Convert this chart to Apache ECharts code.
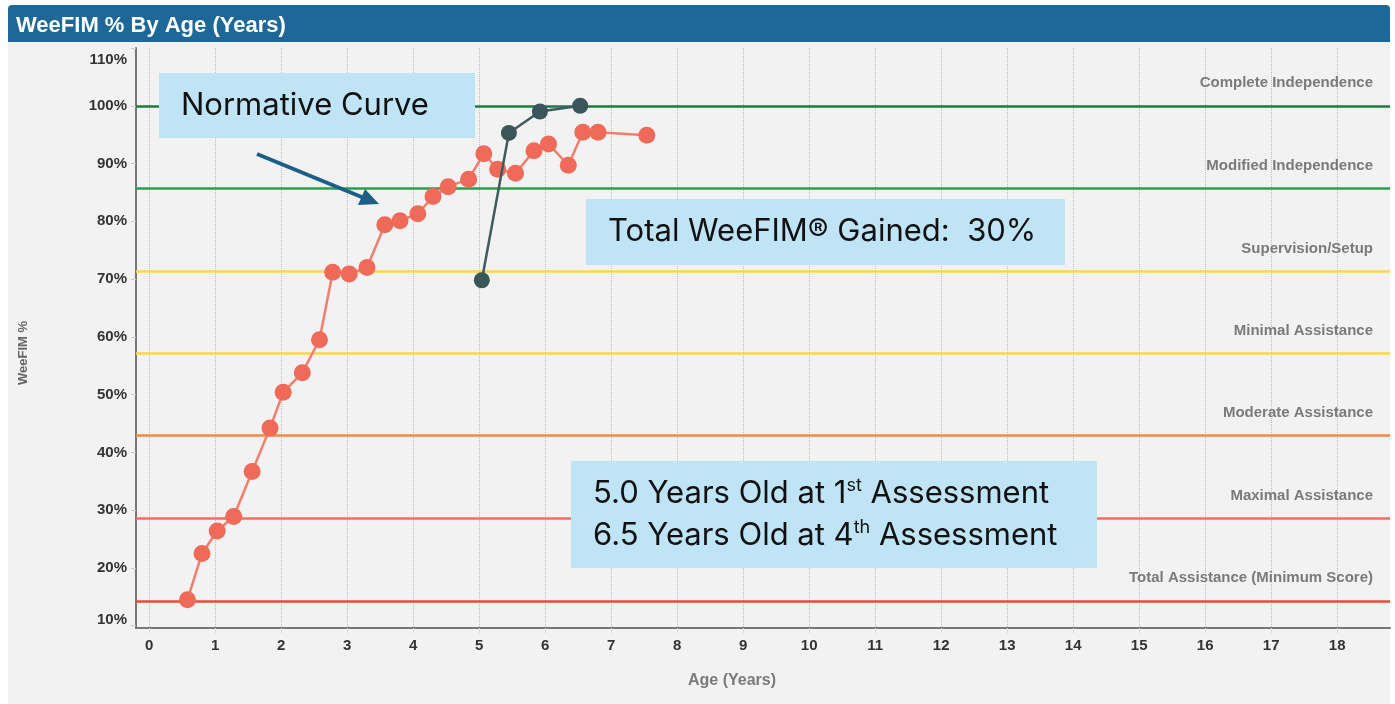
<!DOCTYPE html>
<html>
<head>
<meta charset="utf-8">
<title>WeeFIM % By Age</title>
<script src="https://cdn.jsdelivr.net/npm/echarts@6/dist/echarts.min.js"></script>
<style>
  html, body { margin: 0; padding: 0; background: #fff; }
  #wrap { position: relative; width: 1395px; height: 704px; }
  #panel { position: absolute; left: 8px; top: 40px; width: 1382px; height: 664px; background: #f2f2f2; }
  #bar { position: absolute; left: 8px; top: 5px; width: 1382px; height: 37px; background: #1d6898; border-radius: 4px 4px 0 0; }
  #chart { position: absolute; left: 0; top: 0; width: 1395px; height: 704px; }
</style>
</head>
<body>
<div id="wrap">
  <div id="panel"></div>
  <div id="bar"></div>
  <div id="chart"></div>
</div>
<script>
// normative curve (age in years, WeeFIM %)
const normAge = [0.58, 0.80, 1.03, 1.28, 1.56, 1.83, 2.03, 2.32, 2.58, 2.78, 3.03, 3.30, 3.57, 3.80,
  4.07, 4.30, 4.53, 4.84, 5.07, 5.28, 5.55, 5.83, 6.05, 6.35, 6.57, 6.80, 7.54];
const normPct = [14.5, 22.5, 26.4, 28.9, 36.7, 44.2, 50.4, 53.8, 59.5, 71.2, 70.9, 72.0, 79.4, 80.1,
  81.3, 84.3, 86.0, 87.3, 91.7, 89.0, 88.3, 92.2, 93.4, 89.7, 95.4, 95.4, 94.9];

// patient assessments
const patientAge = [5.04, 5.45, 5.92, 6.53];
const patientPct = [69.8, 95.3, 99.0, 100.0];

// independence levels
const levelNames = ["Complete Independence", "Modified Independence", "Supervision/Setup",
  "Minimal Assistance", "Moderate Assistance", "Maximal Assistance", "Total Assistance (Minimum Score)"];
const levelPct = [100, 85.7, 71.4, 57.1, 42.9, 28.6, 14.3];
const levelColors = ["#1f7a40", "#2e9e4e", "#ffd740", "#ffd740", "#f58a3c", "#f26f5f", "#ec4a36"];

const xTicks = [0, 1, 2, 3, 4, 5, 6, 7, 8, 9, 10, 11, 12, 13, 14, 15, 16, 17, 18];
const yTicks = [10, 20, 30, 40, 50, 60, 70, 80, 90, 100, 110];

const labelFont = "Liberation Sans, Arial, sans-serif";
const noteFont = "Inter, 'Noto Sans', sans-serif";

const chart = echarts.init(document.getElementById("chart"));

const yLabelStyle = { color: "#333", fontSize: 15, fontWeight: "bold", fontFamily: labelFont };

const option = {
  backgroundColor: "transparent",
  animation: false,
  title: {
    text: "WeeFIM % By Age (Years)",
    left: 11,
    top: 10,
    textStyle: { color: "#fff", fontSize: 22, fontWeight: "bold", fontFamily: labelFont }
  },
  grid: { left: 136, right: 5, top: 48, bottom: 76, containLabel: false },
  xAxis: {
    type: "value",
    min: -0.2,
    max: 18.8,
    name: "Age (Years)",
    nameLocation: "middle",
    nameGap: 45,
    nameTextStyle: { color: "#7a7a7a", fontSize: 16, fontWeight: "bold", fontFamily: labelFont, padding: [0, 62, 0, 0] },
    axisLine: { onZero: false, lineStyle: { color: "#777", width: 2 } },
    axisTick: { show: true, customValues: xTicks, length: 5, lineStyle: { color: "#d8d8d8" } },
    axisLabel: { customValues: xTicks, color: "#333", fontSize: 15, fontWeight: "bold", fontFamily: labelFont, margin: 10 },
    splitLine: { show: true, lineStyle: { color: "#bdbdbd", type: "dotted", width: 1 } }
  },
  yAxis: {
    type: "value",
    min: 9.6,
    max: 110,
    name: "WeeFIM %",
    nameLocation: "middle",
    nameGap: 106,
    nameRotate: 90,
    nameTextStyle: { color: "#666", fontSize: 13, fontWeight: "bold", fontFamily: labelFont, padding: [0, 30, 0, 0] },
    axisLine: { show: true, onZero: false, lineStyle: { color: "#777", width: 2 } },
    axisTick: { show: true, customValues: yTicks, length: 5, lineStyle: { color: "#d8c8c8" } },
    axisLabel: {
      customValues: yTicks,
      margin: 9,
      formatter: function (v) {
        if (v === 110) return "{top|" + v + "%}";
        if (v === 10) return "{low|" + v + "%}";
        return "{n|" + v + "%}";
      },
      rich: {
        n: yLabelStyle,
        top: Object.assign({ padding: [24, 0, 0, 0] }, yLabelStyle),
        low: Object.assign({ padding: [0, 0, 12, 0] }, yLabelStyle)
      }
    },
    splitLine: { show: false }
  },
  series: [
    {
      name: "Levels",
      type: "line",
      data: [],
      silent: true,
      z: 1,
      markLine: {
        silent: true,
        symbol: "none",
        z: 1,
        data: levelPct.map((v, i) => ({
          yAxis: v,
          lineStyle: { color: levelColors[i], width: 2.5, type: "solid" },
          label: {
            show: true,
            formatter: levelNames[i],
            position: "insideEndTop",
            distance: [17, 15],
            color: "#7a7a7a",
            fontSize: 15,
            fontWeight: "bold",
            fontFamily: labelFont
          }
        }))
      }
    },
    {
      name: "Normative Curve",
      type: "line",
      z: 3,
      data: normAge.map((a, i) => [a, normPct[i]]),
      symbol: "circle",
      symbolSize: 17,
      lineStyle: { color: "#f47d6c", width: 2.5 },
      itemStyle: { color: "#ef6a59" }
    },
    {
      name: "Patient",
      type: "line",
      z: 4,
      data: patientAge.map((a, i) => [a, patientPct[i]]),
      symbol: "circle",
      symbolSize: 16,
      lineStyle: { color: "#3e5b5d", width: 2.5 },
      itemStyle: { color: "#3b5658" }
    }
  ],
  graphic: [
    { type: "rect", shape: { x: 159, y: 73, width: 316, height: 65 }, style: { fill: "#bee4f6" }, z: 10 },
    {
      type: "text", x: 181, y: 106, z: 11,
      style: { text: "Normative Curve", fontSize: 31, fontFamily: noteFont, fill: "#111", verticalAlign: "middle" }
    },
    {
      type: "line", z: 10,
      shape: { x1: 257, y1: 154, x2: 364, y2: 198 },
      style: { stroke: "#1e5f87", lineWidth: 4 }
    },
    {
      type: "polygon", z: 10,
      shape: { points: [[379, 204], [358, 205], [365, 189]] },
      style: { fill: "#1e5f87" }
    },
    { type: "rect", shape: { x: 586, y: 199, width: 479, height: 66 }, style: { fill: "#bee4f6" }, z: 10 },
    {
      type: "text", x: 608, y: 232, z: 11,
      style: { text: "Total WeeFIM® Gained:  30%", fontSize: 31, fontFamily: noteFont, fill: "#111", verticalAlign: "middle" }
    },
    { type: "rect", shape: { x: 571, y: 461, width: 526, height: 107 }, style: { fill: "#bee4f6" }, z: 10 },
    {
      type: "text", x: 593, y: 515, z: 11,
      style: {
        text: "5.0 Years Old at 1{sup|st} Assessment\n6.5 Years Old at 4{sup|th} Assessment",
        fontSize: 31,
        fontFamily: noteFont,
        fill: "#111",
        lineHeight: 42,
        verticalAlign: "middle",
        rich: {
          sup: { fontSize: 18, fontFamily: noteFont, fill: "#111", verticalAlign: "top", lineHeight: 18, padding: [4, 0, 0, 0] }
        }
      }
    }
  ]
};

chart.setOption(option);
</script>
</body>
</html>
